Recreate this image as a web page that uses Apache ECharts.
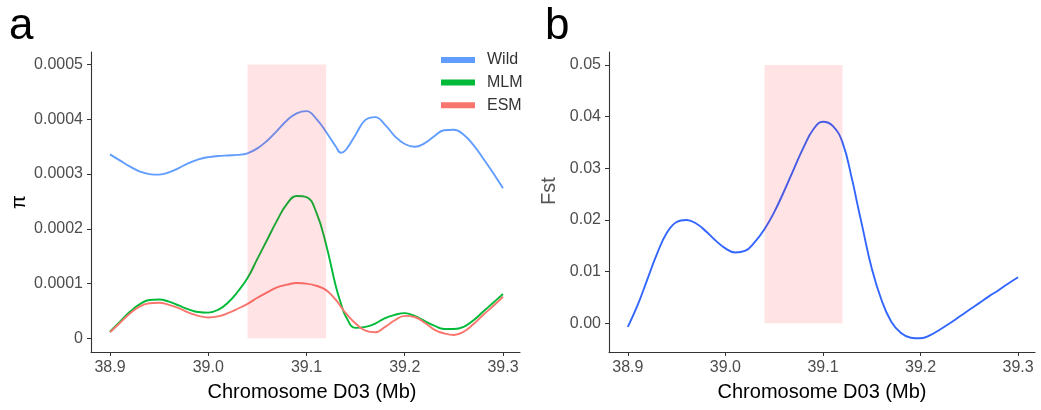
<!DOCTYPE html>
<html>
<head>
<meta charset="utf-8">
<script src="https://cdn.jsdelivr.net/npm/echarts@6/dist/echarts.min.js"></script>
<style>
html,body{margin:0;padding:0;background:#fff;}
#c{width:1041px;height:410px;}
</style>
</head>
<body>
<div id="c"></div>
<script>
// ---- data ----
const positions = [38.90,38.91,38.92,38.93,38.94,38.95,38.96,38.97,38.98,38.99,
  39.00,39.01,39.02,39.03,39.04,39.05,39.06,39.07,39.08,39.09,
  39.10,39.11,39.12,39.13,39.135,39.14,39.15,39.16,39.17,39.18,39.19,
  39.20,39.21,39.22,39.23,39.24,39.25,39.26,39.27,39.28,39.29,39.30];
const piWild = [0.000336,0.000325,0.000314,0.000305,0.000300,0.000299,0.000303,0.000311,0.000320,0.000327,
  0.000331,0.000333,0.000334,0.000335,0.000338,0.000347,0.000361,0.000379,0.000398,0.000411,
  0.000415,0.000401,0.000377,0.000350,0.000339,0.000344,0.000372,0.000399,0.000404,0.000390,0.000369,
  0.000355,0.000350,0.000356,0.000369,0.000380,0.000381,0.000372,0.000353,0.000328,0.000302,0.000274];
const piMLM = [0.000012,0.000030,0.000048,0.000062,0.000070,0.000071,0.000067,0.000060,0.000053,0.000048,
  0.000047,0.000052,0.000065,0.000085,0.000110,0.000145,0.000180,0.000215,0.000245,0.000260,
  0.000258,0.000230,0.000171,0.000094,0.000064,0.000040,0.000019,0.000021,0.000027,0.000037,0.000043,
  0.000046,0.000041,0.000032,0.000023,0.000017,0.000017,0.000021,0.000033,0.000049,0.000065,0.000081];
const piESM = [0.000011,0.000028,0.000045,0.000058,0.000064,0.000065,0.000061,0.000055,0.000047,0.000041,
  0.000038,0.000040,0.000046,0.000054,0.000063,0.000074,0.000084,0.000093,0.000098,0.000101,
  0.000100,0.000096,0.000088,0.000070,0.000058,0.000046,0.000027,0.000014,0.000011,0.000021,0.000033,
  0.000041,0.000039,0.000029,0.000016,0.000009,0.000006,0.000012,0.000026,0.000043,0.000059,0.000076];
const fst = [-0.0007,0.0035,0.0085,0.0135,0.0175,0.0196,0.0200,0.0193,0.0178,0.0160,
  0.0145,0.0137,0.0140,0.0157,0.0182,0.0215,0.0255,0.0298,0.0340,0.0375,
  0.0390,0.0382,0.0350,0.0277,0.0233,0.0190,0.0106,0.0045,0.0003,-0.0019,-0.0028,
  -0.0029,-0.0023,-0.0012,0.0000,0.0013,0.0026,0.0039,0.0052,0.0064,0.0077,0.0089];
const seriesNames = ['Wild','MLM','ESM'];
const xTicks = [38.9,39.0,39.1,39.2,39.3];
const piTicks = [0,0.0001,0.0002,0.0003,0.0004,0.0005];
const fstTicks = [0,0.01,0.02,0.03,0.04,0.05];
const piRegion = [39.04,39.12,0,0.0005];
const fstRegion = [39.04,39.12,0,0.05];

// ---- chart ----
const zip = (xs, ys) => xs.map((x,i)=>[x, ys[i]]);
const axisCol = '#333333';
const labCol = '#4d4d4d';
const font = 'Liberation Sans, Arial, sans-serif';

function xAxisDef(gi, padLeft){
  return {
    type:'value', gridIndex:gi, min:38.8807, max:39.3173,
    name:'Chromosome D03 (Mb)', nameLocation:'middle', nameGap:30,
    nameTextStyle:{color:'#000', fontSize:20, fontFamily:font, padding:[0,0,0,padLeft]},
    splitLine:{show:false},
    axisLine:{show:true, onZero:false, lineStyle:{color:axisCol, width:1.1}},
    axisTick:{show:true, length:4, lineStyle:{color:axisCol}, customValues:xTicks},
    axisLabel:{color:labCol, fontSize:16, fontFamily:font, margin:8, customValues:xTicks,
      formatter:v=>v.toFixed(1)}
  };
}
function yAxisDef(gi, min, max, ticks, fmt, name, nameCol, nameGap, namePad){
  return {
    type:'value', gridIndex:gi, min:min, max:max,
    name:name, nameLocation:'middle', nameGap:nameGap, nameRotate:90,
    nameTextStyle:{color:nameCol, fontSize:20, fontFamily:font, padding:namePad},
    splitLine:{show:false},
    axisLine:{show:true, onZero:false, lineStyle:{color:axisCol, width:1.1}},
    axisTick:{show:true, length:4, lineStyle:{color:axisCol}, customValues:ticks},
    axisLabel:{color:labCol, fontSize:16, fontFamily:font, margin:8, customValues:ticks,
      formatter:fmt}
  };
}
function regionSeries(xi, yi, region){
  return {
    type:'custom', xAxisIndex:xi, yAxisIndex:yi, z:10, silent:true,
    data:[region],
    renderItem:(params, api)=>{
      const p0 = api.coord([api.value(0), api.value(3)]);
      const p1 = api.coord([api.value(1), api.value(2)]);
      return {type:'rect', shape:{x:p0[0], y:p0[1], width:p1[0]-p0[0], height:p1[1]-p0[1]},
        style:{fill:'rgba(255,0,20,0.11)'}};
    }
  };
}
function lineSeries(name, data, color, xi, yi){
  return {type:'line', name:name, xAxisIndex:xi, yAxisIndex:yi, data:data, smooth:0.45,
    showSymbol:false, symbol:'none', lineStyle:{color:color, width:1.9}, itemStyle:{color:color}, z:3};
}

const chart = echarts.init(document.getElementById('c'), null, {renderer:'canvas'});
chart.setOption({
  animation:false,
  backgroundColor:'#fff',
  grid:[
    {left:91, top:52, width:429, height:300},
    {left:609, top:52, width:426, height:300}
  ],
  graphic:[
    {type:'text', left:9, top:5, style:{text:'a', fontSize:44, fontFamily:font, fill:'#000'}},
    {type:'text', left:545, top:5, style:{text:'b', fontSize:44, fontFamily:font, fill:'#000'}}
  ],
  legend:{
    data:seriesNames, orient:'vertical', left:441, top:52, padding:0, itemGap:6.6,
    itemWidth:34, itemHeight:6, icon:'rect',
    textStyle:{color:'#333', fontSize:16, fontFamily:font, padding:[0,0,0,7]}
  },
  xAxis:[xAxisDef(0, 13), xAxisDef(1, 0)],
  yAxis:[
    yAxisDef(0, -0.000025, 0.000523, piTicks, v=> v===0 ? '0' : v.toFixed(4), 'π', '#000', 62, [0,0,0,0]),
    yAxisDef(1, -0.00556, 0.0525, fstTicks, v=> v.toFixed(2), 'Fst', '#555', 50, [0,0,0,22])
  ],
  series:[
    lineSeries(seriesNames[0], zip(positions, piWild), '#619CFF', 0, 0),
    lineSeries(seriesNames[1], zip(positions, piMLM), '#00BA38', 0, 0),
    lineSeries(seriesNames[2], zip(positions, piESM), '#F8766D', 0, 0),
    lineSeries('Fst', zip(positions, fst), '#3366FF', 1, 1),
    regionSeries(0, 0, piRegion),
    regionSeries(1, 1, fstRegion)
  ]
});
</script>
</body>
</html>
